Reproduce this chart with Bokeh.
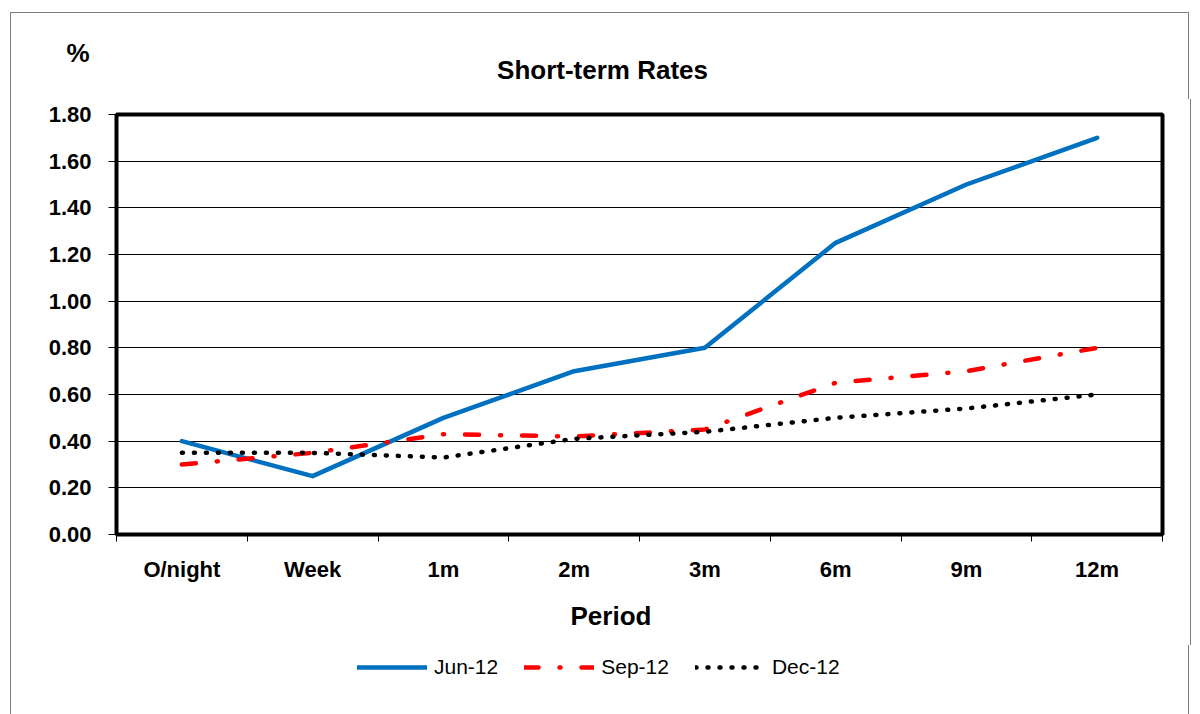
from bokeh.plotting import figure
from bokeh.layouts import column
from bokeh.models import (Range1d, FixedTicker, NumeralTickFormatter, Title, Label, Legend, LegendItem)
from bokeh.embed import file_html
from bokeh.resources import INLINE

categories = ["O/night", "Week", "1m", "2m", "3m", "6m", "9m", "12m"]
jun12 = [0.40, 0.25, 0.50, 0.70, 0.80, 1.25, 1.50, 1.70]
sep12 = [0.30, 0.35, 0.43, 0.42, 0.45, 0.65, 0.70, 0.80]
dec12 = [0.35, 0.35, 0.33, 0.41, 0.44, 0.50, 0.54, 0.60]
y_ticks = [0.0, 0.2, 0.4, 0.6, 0.8, 1.0, 1.2, 1.4, 1.6, 1.8]

FONT = "Liberation Sans"
GRAY = "1px solid #7f7f7f"
xs = [i + 0.5 for i in range(len(categories))]

JUN = dict(line_color="#0070C0", line_width=4.5, line_join="round", line_cap="round")
SEP = dict(line_color="#FF0000", line_width=4.5, line_dash="14 21 1 21", line_join="round", line_cap="round")
DEC = dict(line_color="black", line_width=4.5, line_dash="1 11", line_join="round", line_cap="round")

# ---------- header (title and unit) ----------
head = figure(width=1179, height=87, output_backend="svg", toolbar_location=None, title=None,
              x_axis_location=None, y_axis_location="left",
              x_range=Range1d(0, 1), y_range=Range1d(0, 87),
              min_border=0, min_border_left=0, min_border_right=0, min_border_top=0, min_border_bottom=0)
head.outline_line_color = None
head.grid.visible = False
head.styles = {"margin-left": "10px", "margin-top": "12px",
               "border-left": GRAY, "border-top": GRAY, "border-right": GRAY}
# unit "%" shown as the single label of the header's left axis
head.yaxis.ticker = FixedTicker(ticks=[48])
head.yaxis.major_label_overrides = {48: "%"}
head.yaxis.major_tick_out = 0
head.yaxis.major_tick_in = 0
head.yaxis.major_tick_line_color = None
head.yaxis.minor_tick_line_color = None
head.yaxis.axis_line_color = None
head.yaxis.major_label_standoff = 27
head.yaxis.major_label_text_font = FONT
head.yaxis.major_label_text_font_style = "bold"
head.yaxis.major_label_text_font_size = "26px"
head.yaxis.major_label_text_color = "black"
head.add_layout(Label(x=486, y=31, x_units="screen", y_units="screen", text="Short-term Rates",
                      text_align="center", text_baseline="middle", text_font=FONT,
                      text_font_style="bold", text_font_size="26px", text_color="black"))

# ---------- main chart ----------
p = figure(width=None, height=None, frame_width=1044, frame_height=420,
           output_backend="svg", toolbar_location=None, title=None,
           x_range=Range1d(0, len(categories)), y_range=Range1d(0, 1.8),
           min_border_left=105, min_border_right=30, min_border_top=15, min_border_bottom=110)
p.styles = {"margin-left": "10px", "border-left": GRAY, "border-right": GRAY}

p.outline_line_color = "black"
p.outline_line_width = 4
p.background_fill_color = "white"
p.border_fill_color = "white"

p.xaxis.ticker = FixedTicker(ticks=xs, minor_ticks=list(range(len(categories) + 1)))
p.xaxis.major_label_overrides = {x: c for x, c in zip(xs, categories)}
p.xaxis.major_tick_out = 0
p.xaxis.major_tick_in = 0
p.xaxis.minor_tick_out = 7
p.xaxis.minor_tick_in = 0
p.xaxis.minor_tick_line_color = "black"
p.xaxis.axis_line_color = None
p.xaxis.major_label_text_font = FONT
p.xaxis.major_label_text_font_style = "bold"
p.xaxis.major_label_text_font_size = "22px"
p.xaxis.major_label_text_color = "black"
p.xaxis.major_label_standoff = 15

p.yaxis.ticker = FixedTicker(ticks=y_ticks)
p.yaxis.formatter = NumeralTickFormatter(format="0.00")
p.yaxis.major_tick_out = 8
p.yaxis.major_tick_in = 0
p.yaxis.major_tick_line_color = "black"
p.yaxis.minor_tick_line_color = None
p.yaxis.axis_line_color = None
p.yaxis.major_label_text_font = FONT
p.yaxis.major_label_text_font_style = "bold"
p.yaxis.major_label_text_font_size = "22px"
p.yaxis.major_label_text_color = "black"
p.yaxis.major_label_standoff = 17

p.xgrid.grid_line_color = None
p.ygrid.grid_line_color = "black"
p.ygrid.grid_line_width = 1

p.line(xs, jun12, **JUN)
p.line(xs, sep12, **SEP)
p.line(xs, dec12, **DEC)

p.add_layout(Title(text="Period", align="left", offset=454, standoff=29,
                   text_font=FONT, text_font_style="bold", text_font_size="26px",
                   text_color="black"), "below")

# ---------- legend strip ----------
foot = figure(width=1179, height=69, output_backend="svg", toolbar_location=None, title=None,
              x_axis_location=None, y_axis_location=None,
              x_range=Range1d(100, 101), y_range=Range1d(100, 101),
              min_border=0, min_border_left=0, min_border_right=0, min_border_top=0, min_border_bottom=0)
foot.outline_line_color = None
foot.grid.visible = False
foot.styles = {"margin-left": "10px", "border-left": GRAY, "border-right": GRAY}
l_jun = foot.line(xs, jun12, **JUN)
l_sep = foot.line(xs, sep12, **SEP)
l_dec = foot.line(xs, dec12, **DEC)
legend = Legend(items=[LegendItem(label="Jun-12", renderers=[l_jun]),
                       LegendItem(label="Sep-12", renderers=[l_sep]),
                       LegendItem(label="Dec-12", renderers=[l_dec])],
                orientation="horizontal", location=(241, 35),
                glyph_width=70, glyph_height=20, label_standoff=7, spacing=26,
                padding=0, margin=0, border_line_color=None, background_fill_alpha=0,
                label_text_font=FONT, label_text_font_size="21px", label_text_color="black")
foot.add_layout(legend, "center")

layout = column(head, p, foot, spacing=0)
open("out.html", "w").write(file_html(layout, INLINE))
